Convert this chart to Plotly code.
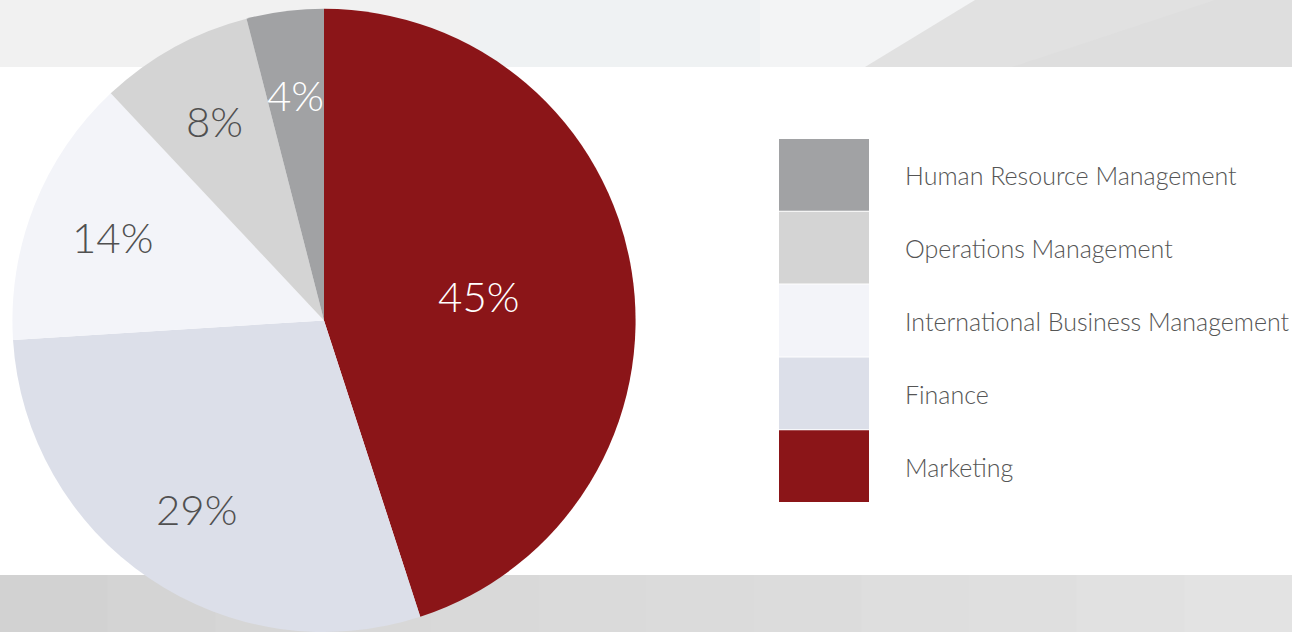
import math
import plotly.graph_objects as go

categories = ["Marketing", "Finance", "International Business Management",
              "Operations Management", "Human Resource Management"]
values = [45, 29, 14, 8, 4]
colors = ["#8b1518", "#dcdfe9", "#f3f4f9", "#d4d4d4", "#a1a2a4"]
text_colors = ["#ffffff", "#505050", "#505050", "#505050", "#ffffff"]
legend_order = ["Human Resource Management", "Operations Management",
                "International Business Management", "Finance", "Marketing"]

W, H = 1292, 632
FONT = "Lato Light, Lato"
DOMAIN = dict(x=[12 / W, 636 / W], y=[0.0, 0.986])

fig = go.Figure()
fig.add_trace(go.Pie(
    labels=categories, values=values, sort=False, direction="clockwise", rotation=0,
    marker=dict(colors=colors, line=dict(width=0)),
    texttemplate=["%{percent:.0%}", "", "", "", ""], textposition="inside",
    insidetextorientation="horizontal",
    textfont=dict(family=FONT, size=42, color=text_colors, weight=300),
    domain=DOMAIN, showlegend=False, hoverinfo="label+percent",
))

def px(x):
    return x / W
def py(y):
    return 1 - y / H

annotations = []
# labels of the smaller slices, placed at the slice mid-angle (derived from the values)
cx = (DOMAIN["x"][0] + DOMAIN["x"][1]) / 2 * W
cy = H - (DOMAIN["y"][0] + DOMAIN["y"][1]) / 2 * H
R = min((DOMAIN["x"][1] - DOMAIN["x"][0]) * W, (DOMAIN["y"][1] - DOMAIN["y"][0]) * H) / 2
total = sum(values)
cum = 0
for i, v in enumerate(values):
    mid = 2 * math.pi * (cum + v / 2) / total
    cum += v
    if i == 0:
        continue
    r = 0.73 * R
    annotations.append(dict(xref="paper", yref="paper",
                            x=px(cx + r * math.sin(mid)), y=py(cy - r * math.cos(mid)),
                            text=f"{round(100 * v / total)}%", showarrow=False,
                            xanchor="center", yanchor="middle",
                            font=dict(family=FONT, size=42, color=text_colors[i], weight=300)))

shapes = []
bands_top = [
    (0, 470, "#f1f1f1"), (470, 760, "#eff2f3"), (760, 1000, "#f3f4f5"),
]
for x0, x1, c in bands_top:
    shapes.append(dict(type="rect", xref="paper", yref="paper", x0=px(x0), x1=px(x1),
                       y0=py(67), y1=1, fillcolor=c, line=dict(width=0), layer="below"))
shapes.append(dict(type="path", xref="paper", yref="paper",
                   path=f"M {px(865)},{py(67)} L {px(975)},{py(0)} L 1,{py(0)} L 1,{py(67)} Z",
                   fillcolor="#e1e1e1", line=dict(width=0), layer="below"))
shapes.append(dict(type="path", xref="paper", yref="paper",
                   path=f"M {px(1012)},{py(67)} L {px(1215)},{py(0)} L 1,{py(0)} L 1,{py(67)} Z",
                   fillcolor="#dedede", line=dict(width=0), layer="below"))
bottom_cols = ["#d2d2d2", "#d4d4d4", "#d6d6d6", "#d8d8d8", "#d9d9d9", "#dadada",
               "#dbdbdb", "#dcdcdc", "#dedede", "#dfdfdf", "#e1e1e1", "#e3e3e3"]
n = len(bottom_cols)
for i, c in enumerate(bottom_cols):
    shapes.append(dict(type="rect", xref="paper", yref="paper", x0=i / n, x1=(i + 1) / n + 0.001,
                       y0=0, y1=py(575), fillcolor=c, line=dict(width=0), layer="below"))

top, step = 139, 72.8
for i, name in enumerate(legend_order):
    c = colors[categories.index(name)]
    y0 = top + i * step
    shapes.append(dict(type="rect", xref="paper", yref="paper", x0=px(779), x1=px(869),
                       y0=py(y0 + step - 1), y1=py(y0), fillcolor=c, line=dict(width=0)))
    annotations.append(dict(xref="paper", yref="paper", x=px(903), y=py(y0 + step / 2),
                            text=name, showarrow=False, xanchor="left", yanchor="middle",
                            font=dict(family=FONT, size=25, color="#555555", weight=300)))

fig.update_layout(
    width=W, height=H, margin=dict(l=0, r=0, t=0, b=0),
    paper_bgcolor="#ffffff", plot_bgcolor="#ffffff",
    shapes=shapes, annotations=annotations, showlegend=False,
)
fig.write_html("out.html", config={"displayModeBar": False},
               post_script="document.body.style.margin='0';")
